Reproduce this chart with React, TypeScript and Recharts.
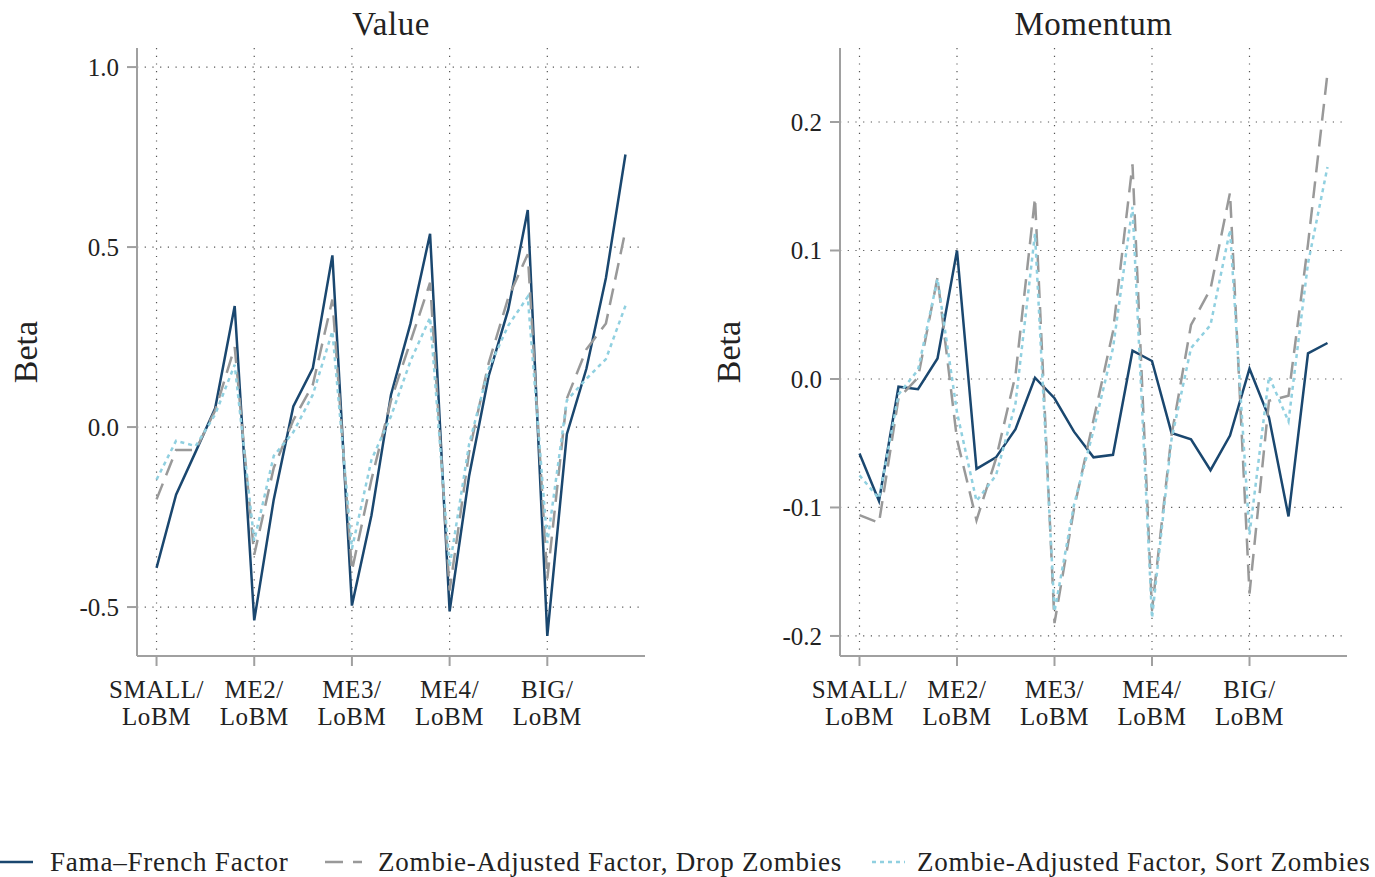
import React from "react";
import { LineChart, Line, XAxis, YAxis, CartesianGrid } from "recharts";

const portfolios = Array.from({ length: 25 }, (_, i) => i);

const xTickLabels: Record<number, [string, string]> = {
  0: ["SMALL/", "LoBM"],
  5: ["ME2/", "LoBM"],
  10: ["ME3/", "LoBM"],
  15: ["ME4/", "LoBM"],
  20: ["BIG/", "LoBM"],
};

// Value factor betas
const valueFF = [
  -0.391, -0.188, -0.069, 0.052, 0.336,
  -0.537, -0.201, 0.057, 0.164, 0.477,
  -0.496, -0.245, 0.09, 0.288, 0.537,
  -0.512, -0.135, 0.142, 0.326, 0.603,
  -0.58, -0.02, 0.162, 0.414, 0.757,
];
const valueDrop = [
  -0.201, -0.064, -0.064, 0.046, 0.222,
  -0.355, -0.113, 0.019, 0.118, 0.354,
  -0.399, -0.146, 0.074, 0.238, 0.401,
  -0.454, -0.069, 0.178, 0.359, 0.48,
  -0.421, 0.079, 0.216, 0.288, 0.546,
];
const valueSort = [
  -0.146, -0.038, -0.053, 0.035, 0.173,
  -0.316, -0.08, -0.014, 0.09, 0.266,
  -0.338, -0.091, 0.03, 0.184, 0.304,
  -0.388, -0.047, 0.162, 0.282, 0.362,
  -0.322, 0.074, 0.134, 0.189, 0.337,
];

// Momentum factor betas
const momFF = [
  -0.058, -0.095, -0.006, -0.008, 0.016,
  0.1, -0.07, -0.061, -0.039, 0.001,
  -0.015, -0.041, -0.061, -0.059, 0.022,
  0.014, -0.042, -0.047, -0.071, -0.044,
  0.008, -0.03, -0.107, 0.02, 0.028,
];
const momDrop = [
  -0.106, -0.112, -0.015, 0.001, 0.079,
  -0.047, -0.11, -0.062, 0.003, 0.141,
  -0.19, -0.101, -0.032, 0.037, 0.167,
  -0.18, -0.044, 0.042, 0.07, 0.145,
  -0.167, -0.017, -0.013, 0.105, 0.238,
];
const momSort = [
  -0.075, -0.093, -0.012, 0.007, 0.078,
  -0.026, -0.095, -0.075, -0.019, 0.113,
  -0.181, -0.098, -0.04, 0.024, 0.134,
  -0.186, -0.047, 0.024, 0.042, 0.116,
  -0.121, 0.002, -0.033, 0.09, 0.165,
];

const valueTicks = [-0.5, 0, 0.5, 1.0];
const momTicks = [-0.2, -0.1, 0, 0.1, 0.2];

const NAVY = "#1a476f";
const GRAY = "#999999";
const SKY = "#90d0e0";
const AXIS = "#a0a0a0";
const TEXT = "#222222";
const FONT = "'Liberation Serif', 'Times New Roman', serif";

const XTick = (props: any) => {
  const { x, y, payload } = props;
  const lab = xTickLabels[payload.value];
  if (!lab) return null;
  return (
    <g>
      <text x={x} y={y + 30} textAnchor="middle" fontSize={25} letterSpacing={0.6} fill={TEXT} fontFamily={FONT}>
        {lab[0]}
      </text>
      <text x={x} y={y + 57} textAnchor="middle" fontSize={25} letterSpacing={0.6} fill={TEXT} fontFamily={FONT}>
        {lab[1]}
      </text>
    </g>
  );
};

type PanelProps = {
  title: string;
  ff: number[];
  drop: number[];
  sort: number[];
  ticks: number[];
  domain: [number, number];
  left: number;
  width: number;
  yAxisWidth: number;
  rightMargin: number;
  betaX: number;
};

function Panel(p: PanelProps) {
  const data = portfolios.map((i) => ({
    i,
    ff: p.ff[i],
    drop: p.drop[i],
    sort: p.sort[i],
  }));
  const plotLeft = p.yAxisWidth;
  const plotRight = p.width - p.rightMargin;
  return (
    <div style={{ position: "absolute", left: p.left, top: 0, width: p.width, height: 760 }}>
      <div
        style={{
          position: "absolute",
          left: plotLeft,
          width: plotRight - plotLeft,
          top: 4,
          textAlign: "center",
          fontFamily: FONT,
          fontSize: 33,
          letterSpacing: 0.5,
          color: TEXT,
          lineHeight: "40px",
        }}
      >
        {p.title}
      </div>
      <LineChart
        width={p.width}
        height={736}
        data={data}
        margin={{ top: 48, right: p.rightMargin, bottom: 0, left: 0 }}
      >
        <CartesianGrid
          stroke="#555"
          strokeDasharray="1.2 6.5"
          strokeWidth={1.2}
          verticalValues={[0, 5, 10, 15, 20]}
          horizontalValues={p.ticks}
        />
        <XAxis
          dataKey="i"
          type="number"
          domain={[-1, 25]}
          ticks={[0, 5, 10, 15, 20]}
          height={80}
          tickSize={10}
          tickMargin={2}
          stroke={AXIS}
          strokeWidth={2}
          tick={<XTick />}
          interval={0}
        />
        <YAxis
          type="number"
          domain={p.domain}
          ticks={p.ticks}
          width={p.yAxisWidth}
          tickSize={10}
          tickMargin={8}
          stroke={AXIS}
          strokeWidth={2}
          allowDataOverflow
          tickFormatter={(v: number) => v.toFixed(1)}
          tick={{ fill: TEXT, fontSize: 25, fontFamily: FONT }}
          label={({ viewBox }: any) => (
            <text
              x={p.betaX}
              y={viewBox.y + viewBox.height / 2}
              transform={`rotate(-90 ${p.betaX} ${viewBox.y + viewBox.height / 2})`}
              textAnchor="middle"
              dominantBaseline="central"
              fontSize={34}
              fill={TEXT}
              fontFamily={FONT}
            >
              Beta
            </text>
          )}
        />
        <Line
          dataKey="ff"
          stroke={NAVY}
          strokeWidth={2.5}
          dot={false}
          activeDot={false}
          isAnimationActive={false}
        />
        <Line
          dataKey="drop"
          stroke={GRAY}
          strokeWidth={2.5}
          strokeDasharray="17 9"
          dot={false}
          activeDot={false}
          isAnimationActive={false}
        />
        <Line
          dataKey="sort"
          stroke={SKY}
          strokeWidth={2.5}
          strokeDasharray="4 4"
          dot={false}
          activeDot={false}
          isAnimationActive={false}
        />
      </LineChart>
    </div>
  );
}

const legendItems = [
  { label: "Fama\u2013French Factor", color: NAVY, dash: undefined as string | undefined, x1: 0, x2: 33, tx: 50 },
  { label: "Zombie-Adjusted Factor, Drop Zombies", color: GRAY, dash: "18 10", x1: 325, x2: 362, tx: 378 },
  { label: "Zombie-Adjusted Factor, Sort Zombies", color: SKY, dash: "4 4", x1: 872, x2: 905, tx: 917 },
];

export default function App() {
  return (
    <div style={{ position: "absolute", left: 0, top: 0, width: 1375, height: 877, background: "#fff" }}>
      <Panel
        title="Value"
        ff={valueFF}
        drop={valueDrop}
        sort={valueSort}
        ticks={valueTicks}
        domain={[-0.636, 1.053]}
        left={0}
        width={700}
        yAxisWidth={137}
        rightMargin={55}
        betaX={25}
      />
      <Panel
        title="Momentum"
        ff={momFF}
        drop={momDrop}
        sort={momSort}
        ticks={momTicks}
        domain={[-0.2156, 0.2576]}
        left={700}
        width={675}
        yAxisWidth={140}
        rightMargin={28}
        betaX={28}
      />
      <svg style={{ position: "absolute", left: 0, top: 840 }} width={1375} height={37}>
        {legendItems.map((it) => (
          <g key={it.label}>
            <line
              x1={it.x1}
              x2={it.x2}
              y1={22}
              y2={22}
              stroke={it.color}
              strokeWidth={2.5}
              strokeDasharray={it.dash}
            />
            <text x={it.tx} y={31} fontSize={27} letterSpacing={0.8} fill={TEXT} fontFamily={FONT}>
              {it.label}
            </text>
          </g>
        ))}
      </svg>
    </div>
  );
}
